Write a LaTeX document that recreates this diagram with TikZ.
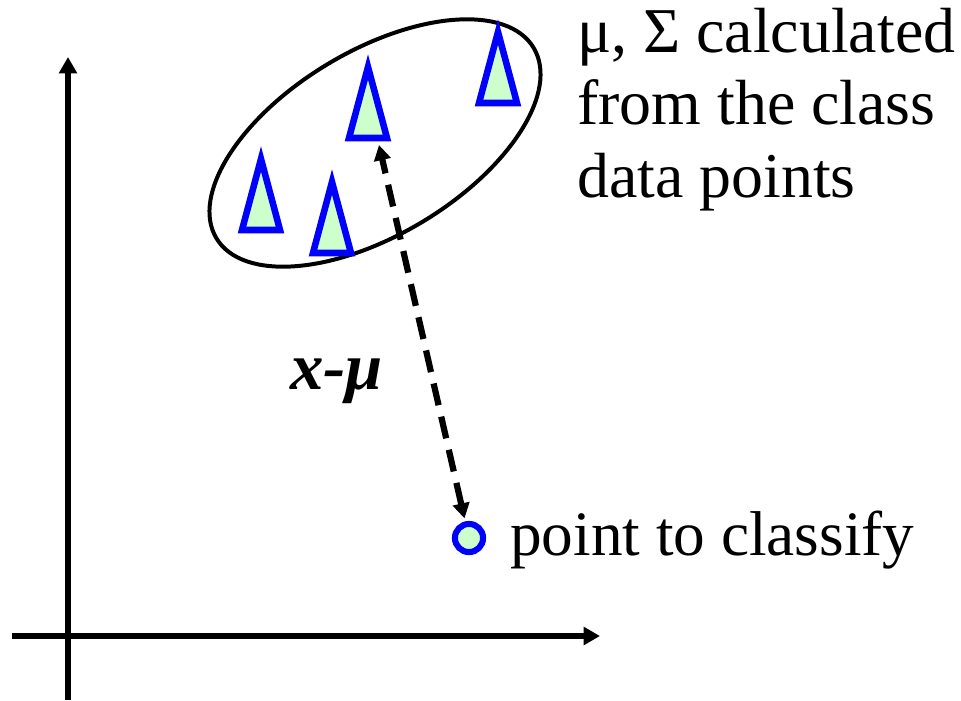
\documentclass[tikz,border=0pt]{standalone}
\usepackage{fontspec}
\setmainfont{Liberation Serif}
\usetikzlibrary{arrows.meta}
\definecolor{ptgreen}{RGB}{204,255,204}
\tikzset{
  axis/.style={line width=5.2pt,-{Triangle[length=14pt,width=15pt]}},
  datapt/.style={draw=blue,fill=ptgreen,line width=5.6pt},
  diffarrow/.style={line width=5.3pt,dash pattern=on 19pt off 10pt,
    {Triangle[length=13pt,width=14pt]}-{Triangle[length=13pt,width=14pt]}},
}
% one training sample of the class
\newcommand{\classpt}[2]{\filldraw[datapt] (#1,#2) -- ++(-19,71) -- ++(38,0) -- cycle;}
\begin{document}
\begin{tikzpicture}[x=0.03cm,y=-0.03cm]
  \useasboundingbox (0,0) rectangle (961,700);
  % axes
  \draw[axis] (68,700) -- (68,57);
  \draw[axis] (12,636) -- (600,636);
  % class ellipse
  \draw[line width=3.4pt,rotate around={31:(375,143)}] (375,143) ellipse (185 and 92);
  \classpt{368}{67}
  \classpt{498}{32}
  \classpt{261}{159}
  \classpt{332}{182}
  \coordinate (mu) at (379,145);
  % point to classify
  \node[circle,draw=blue,fill=ptgreen,line width=5.2pt,inner sep=0pt,minimum size=24pt] (pt) at (469,538) {};
  \draw[diffarrow,shorten <=2.5pt] (pt) -- (mu);
  \node[anchor=base west,inner sep=0pt,font=\fontsize{57}{64}\selectfont\bfseries\itshape] (diff) at (290,389) {x-μ};
  \node[anchor=base west,inner sep=0pt,font=\fontsize{54}{64}\selectfont] (ptlabel) at (510,555) {point to classify};
  \node[anchor=base west,inner sep=0pt,align=left,font=\fontsize{54.5}{61.5}\selectfont] (cls) at (577,197) {μ, Σ calculated\\from the class\\data points};
\end{tikzpicture}
\end{document}
